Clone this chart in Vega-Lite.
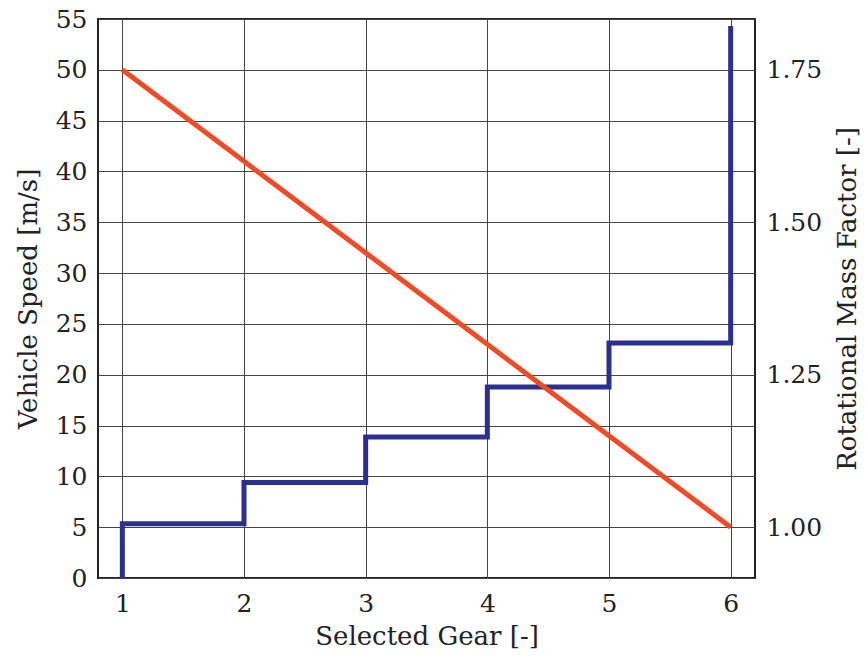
{
  "$schema": "https://vega.github.io/schema/vega-lite/v6.json",
  "width": 657,
  "height": 559,
  "autosize": {"type": "none"},
  "padding": {"left": 98, "top": 19, "right": 113, "bottom": 81},
  "background": "white",
  "config": {
    "view": {"stroke": "#222222", "strokeWidth": 2},
    "axis": {
      "labelFont": "DejaVu Serif",
      "titleFont": "DejaVu Serif",
      "labelFontSize": 25,
      "titleFontSize": 26,
      "titleFontWeight": "normal",
      "labelColor": "#222222",
      "titleColor": "#222222",
      "domain": false,
      "ticks": false,
      "gridColor": "#444444",
      "gridOpacity": 1,
      "gridWidth": 1
    }
  },
  "datasets": {
    "speed": [
      {"gear": 1, "speed": 0},
      {"gear": 1, "speed": 5.35},
      {"gear": 2, "speed": 9.39},
      {"gear": 3, "speed": 13.88},
      {"gear": 4, "speed": 18.8},
      {"gear": 5, "speed": 23.13},
      {"gear": 6, "speed": 54.3}
    ],
    "mass": [
      {"gear": 1, "factor": 1.75},
      {"gear": 2, "factor": 1.6},
      {"gear": 3, "factor": 1.45},
      {"gear": 4, "factor": 1.3},
      {"gear": 5, "factor": 1.15},
      {"gear": 6, "factor": 1.0}
    ]
  },
  "layer": [
    {
      "data": {"name": "speed"},
      "mark": {"type": "line", "interpolate": "step-after", "color": "#2B3090", "strokeWidth": 5},
      "encoding": {
        "x": {
          "field": "gear",
          "type": "quantitative",
          "scale": {"domain": [0.8, 6.2], "nice": false, "zero": false},
          "axis": {"values": [1, 2, 3, 4, 5, 6], "format": "d", "title": "Selected Gear [-]", "labelPadding": 13, "titlePadding": 7}
        },
        "y": {
          "field": "speed",
          "type": "quantitative",
          "scale": {"domain": [0, 55], "nice": false},
          "axis": {"values": [0, 5, 10, 15, 20, 25, 30, 35, 40, 45, 50, 55], "title": "Vehicle Speed [m/s]", "labelPadding": 11, "titlePadding": 14}
        }
      }
    },
    {
      "data": {"name": "mass"},
      "mark": {"type": "line", "color": "#EE4B26", "strokeWidth": 5},
      "encoding": {
        "x": {"field": "gear", "type": "quantitative"},
        "y": {
          "field": "factor",
          "type": "quantitative",
          "scale": {"domain": [0.916667, 1.833333], "nice": false, "zero": false},
          "axis": {
            "orient": "right",
            "values": [1, 1.25, 1.5, 1.75],
            "format": ".2f",
            "grid": false,
            "title": "Rotational Mass Factor [-]",
            "titleAngle": 270,
            "titleBaseline": "top",
            "labelPadding": 11,
            "titlePadding": 13
          }
        }
      }
    }
  ],
  "resolve": {"scale": {"y": "independent"}}
}
